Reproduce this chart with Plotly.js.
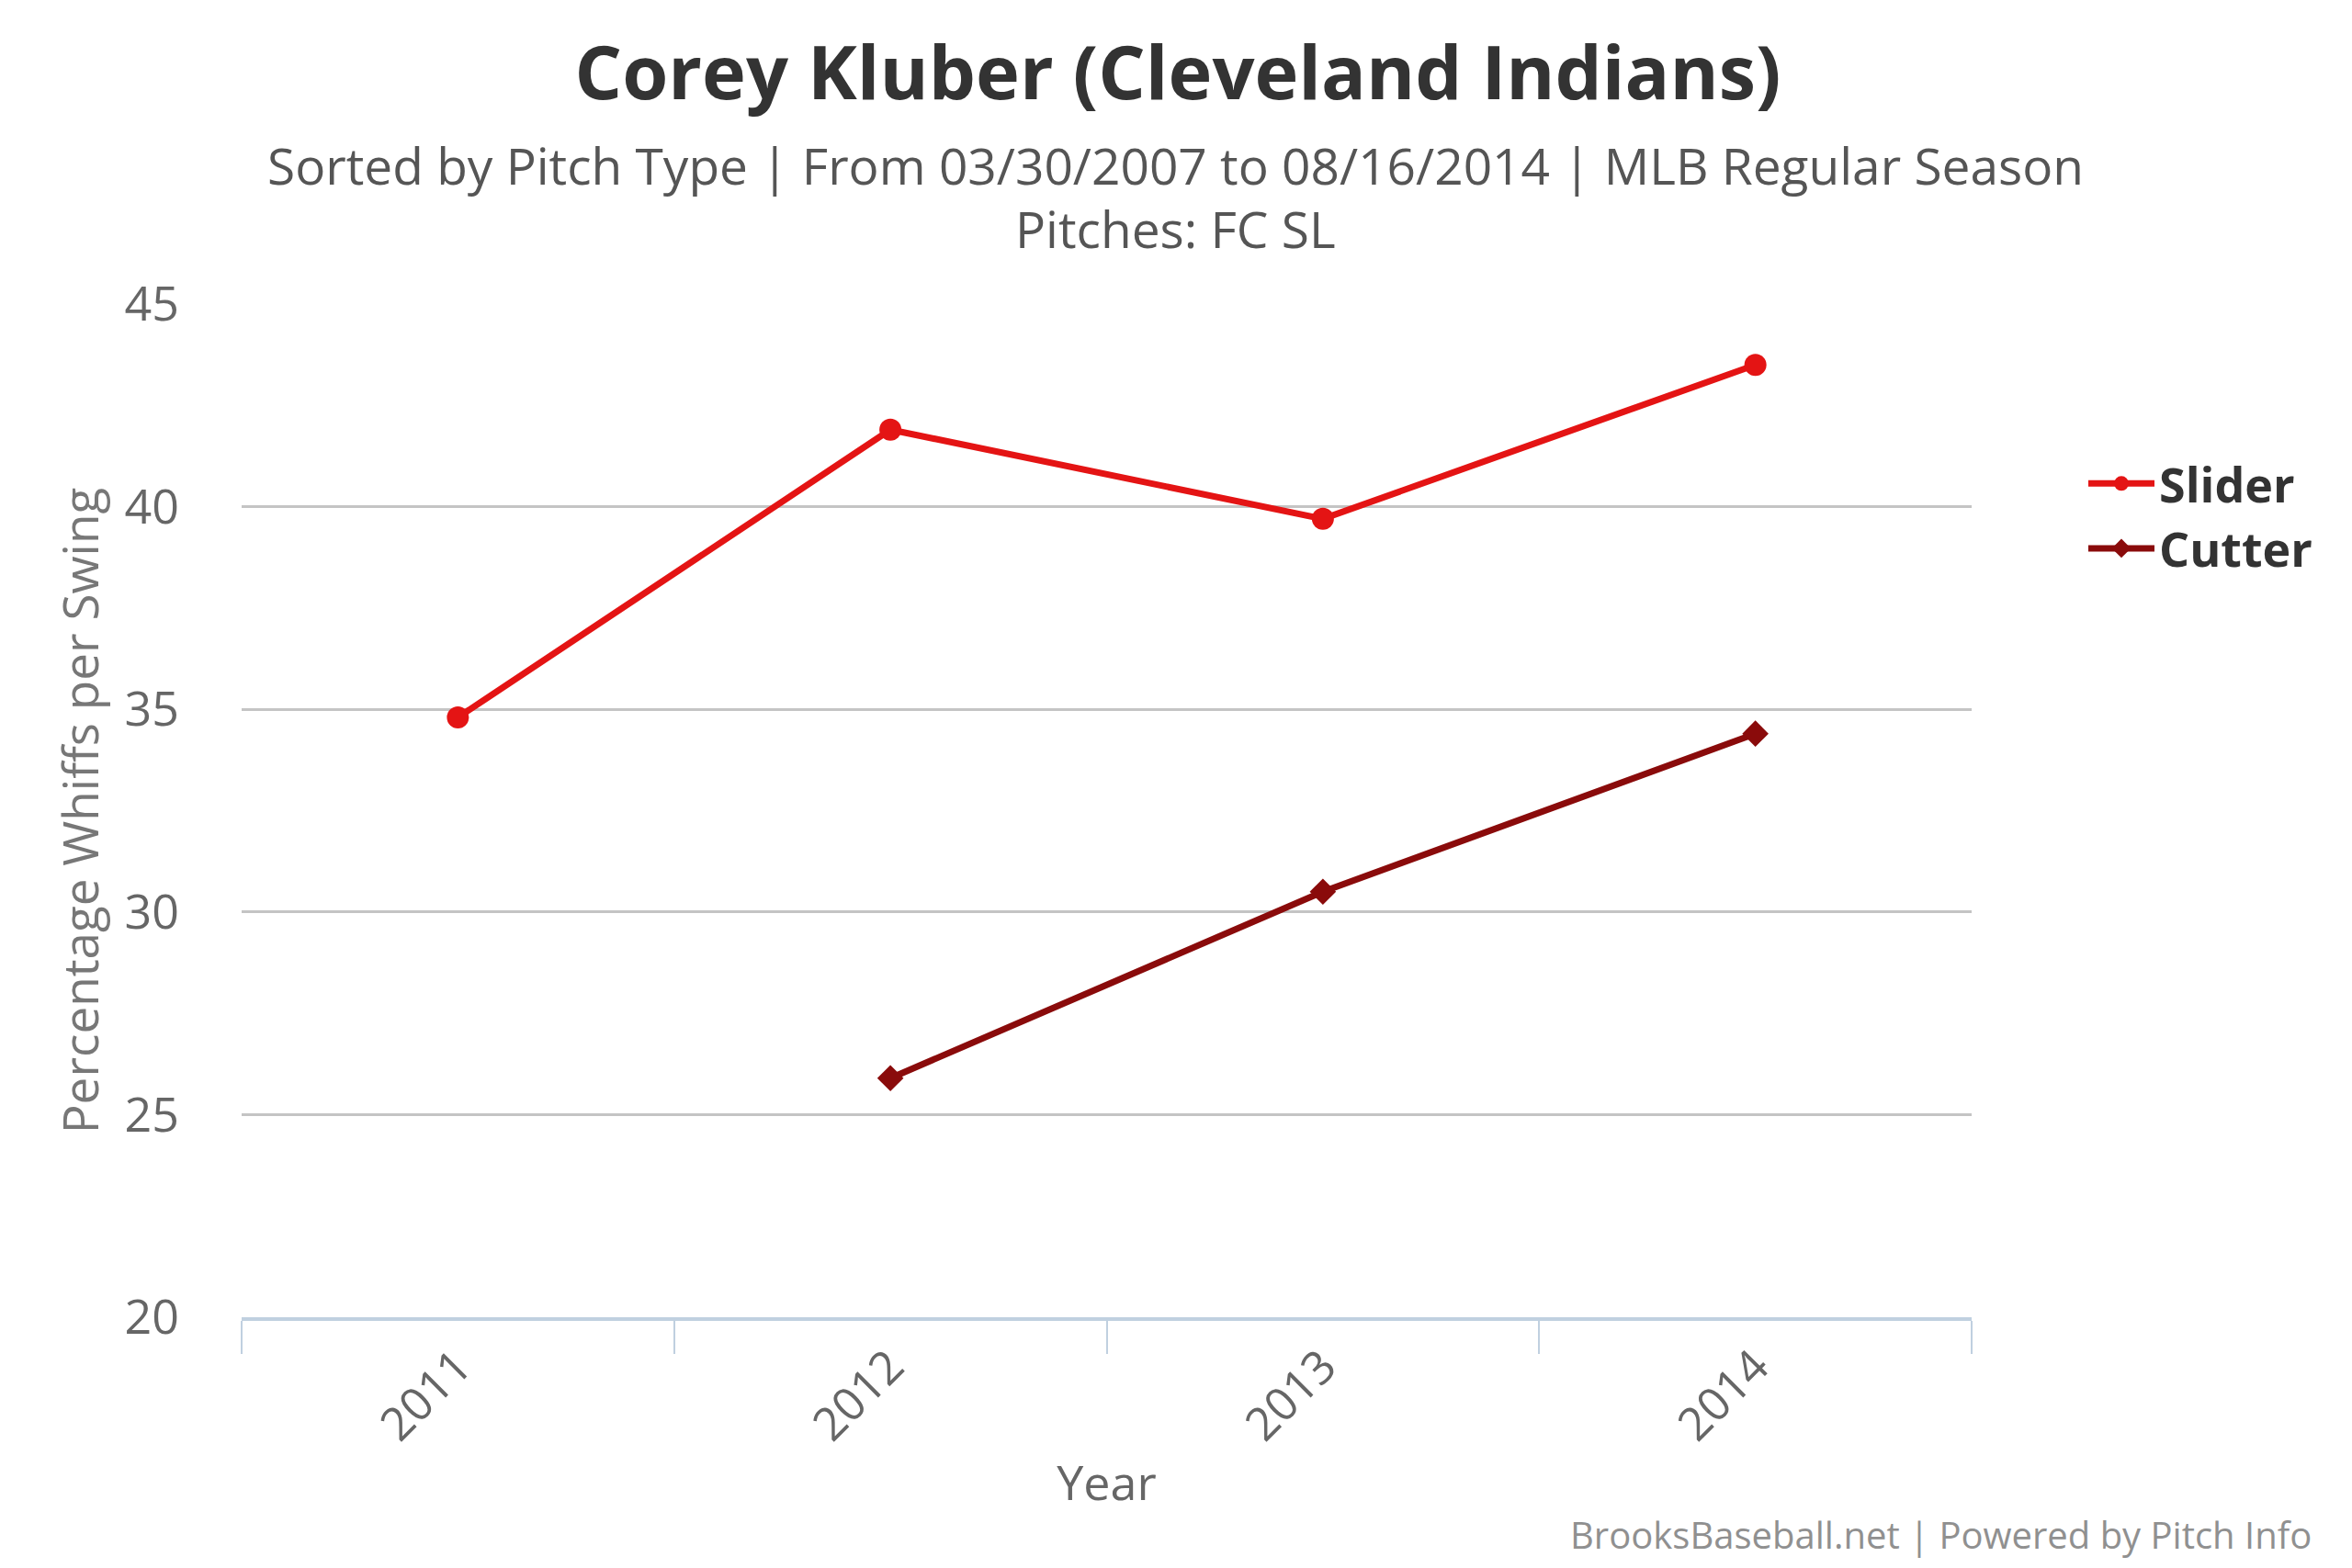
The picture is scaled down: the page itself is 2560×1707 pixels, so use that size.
<!DOCTYPE html>
<html>
<head>
<meta charset="utf-8">
<script src="https://cdn.plot.ly/plotly-3.0.1.min.js"></script>
<style>
  html, body { margin: 0; padding: 0; background: #fff; }
  #plot { width: 2560px; height: 1707px; }
</style>
</head>
<body>
<div id="plot"></div>
<script>
var years = ["2011", "2012", "2013", "2014"];
var slider = [34.8, 41.9, 39.7, 43.5];
var cutter = [null, 25.9, 30.5, 34.4];

var font = "Open Sans, Noto Sans, sans-serif";

// plot box in pixels, used to place the loose texts
var L = 263, T = 331, W = 2560 - 263 - 414, H = 1707 - 331 - 273;
function px(x) { return (x - L) / W; }
function py(y) { return (T + H - y) / H; }

//Slider trace
var traceSlider = {
  x: years,
  y: slider,
  type: "scatter",
  mode: "lines+markers",
  name: "Slider",
  line: { color: "#e41414", width: 7 },
  marker: { color: "#e41414", size: 24, symbol: "circle" }
};

//Cutter trace
var traceCutter = {
  x: years,
  y: cutter,
  type: "scatter",
  mode: "lines+markers",
  name: "Cutter",
  connectgaps: false,
  line: { color: "#8a0b0b", width: 7 },
  marker: { color: "#8a0b0b", size: 22, symbol: "diamond" }
};

var data = [traceSlider, traceCutter];

var layout = {
  width: 2560,
  height: 1707,
  margin: { l: L, r: 414, t: T, b: 273 },
  paper_bgcolor: "#fff",
  plot_bgcolor: "#fff",
  font: { family: font, color: "#666" },
  title: {
    text: "<b>Corey Kluber (Cleveland Indians)</b>",
    font: { family: font, size: 81, color: "#333" },
    x: 1282 / 2560, xref: "container", xanchor: "center",
    y: 1 - 80 / 1707, yref: "container", yanchor: "middle"
  },
  xaxis: {
    type: "category",
    range: [-0.5, 3.5],
    tickson: "boundaries",
    ticks: "outside",
    ticklen: 36,
    tickwidth: 2,
    tickcolor: "#c0d0e0",
    showline: true,
    linecolor: "#c0d0e0",
    linewidth: 4,
    showgrid: false,
    tickangle: -45,
    tickfont: { family: font, size: 50, color: "#666" },
    title: { text: "Year", font: { family: font, size: 52, color: "#666" }, standoff: 16 }
  },
  yaxis: {
    range: [20, 45],
    dtick: 5,
    ticks: "",
    ticklabelstandoff: 67,
    showgrid: true,
    gridcolor: "#c4c4c4",
    gridwidth: 3,
    zeroline: false,
    tickfont: { family: font, size: 52, color: "#666" },
    title: { text: "Percentage Whiffs per Swing", font: { family: font, size: 53, color: "#777" }, standoff: 10 }
  },
  legend: {
    x: px(2268), xanchor: "left",
    y: py(562), yanchor: "middle",
    font: { family: font, size: 52, color: "#333", weight: "bold" },
    itemwidth: 72,
    tracegroupgap: 0
  },
  annotations: [
    {
      text: "Sorted by Pitch Type | From 03/30/2007 to 08/16/2014 | MLB Regular Season",
      xref: "paper", yref: "paper",
      x: px(1279), y: py(179),
      xanchor: "center", yanchor: "middle", showarrow: false,
      font: { family: font, size: 55, color: "#555" }
    },
    {
      text: "Pitches: FC SL",
      xref: "paper", yref: "paper",
      x: px(1279), y: py(248),
      xanchor: "center", yanchor: "middle", showarrow: false,
      font: { family: font, size: 55, color: "#555" }
    },
    {
      text: "BrooksBaseball.net | Powered by Pitch Info",
      xref: "paper", yref: "paper",
      x: px(2518), y: py(1670),
      xanchor: "right", yanchor: "middle", showarrow: false,
      font: { family: font, size: 40, color: "#909090" }
    }
  ],
  showlegend: true
};

Plotly.newPlot("plot", data, layout, { displayModeBar: false, staticPlot: true });
</script>
</body>
</html>
